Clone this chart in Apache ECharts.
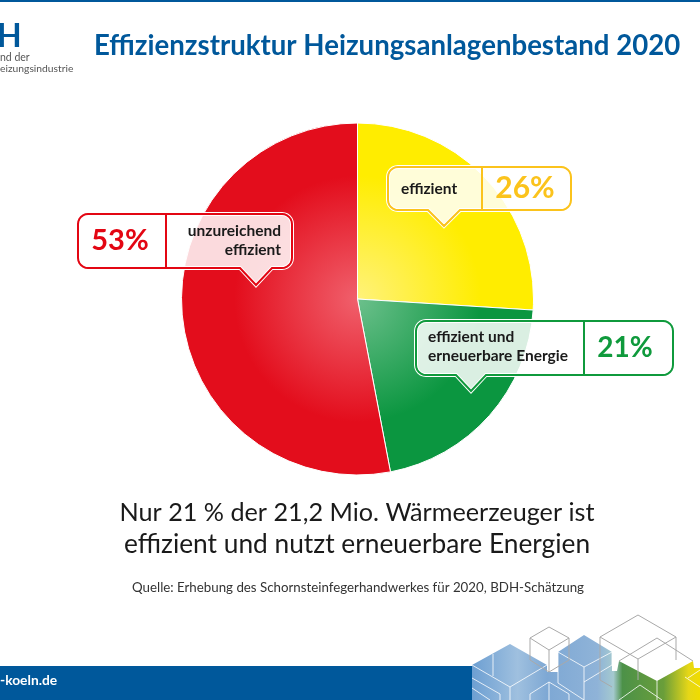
<!DOCTYPE html>
<html>
<head>
<meta charset="utf-8">
<title>Effizienzstruktur Heizungsanlagenbestand 2020</title>
<script src="https://cdn.jsdelivr.net/npm/echarts@6/dist/echarts.min.js"></script>
<style>
html,body{margin:0;padding:0;background:#fff;}
#chart{width:700px;height:700px;}
</style>
</head>
<body>
<div id="chart"></div>
<script>
var categories = ['effizient', 'effizient und erneuerbare Energie', 'unzureichend effizient'];
var values = [26, 21, 53];
var labelLines = [['effizient'], ['effizient und', 'erneuerbare Energie'], ['unzureichend', 'effizient']];
var titleText = 'Effizienzstruktur Heizungsanlagenbestand 2020';
var headline = ['Nur 21 % der 21,2 Mio. Wärmeerzeuger ist', 'effizient und nutzt erneuerbare Energien'];
var sourceText = 'Quelle: Erhebung des Schornsteinfegerhandwerkes für 2020, BDH-Schätzung';

var FONT = 'Lato, "Noto Sans", sans-serif';
var BLUE = '#00589b';
var cx = 357.5, cy = 299, radius = 176;

var chart = echarts.init(document.getElementById('chart'));

// radial shading, lighter towards the middle of the pie
function shade(inner, outer){
	return new echarts.graphic.RadialGradient(cx, cy, radius, [
		{offset: 0, color: inner},
		{offset: 0.7, color: outer},
		{offset: 1, color: outer}
	], true);
}

function text(str, x, y, size, weight, color, align){
	return {
		type: 'text', z: 20,
		style: {
			text: str, x: x, y: y, fill: color,
			font: weight + ' ' + size + 'px ' + FONT,
			textAlign: align || 'left', textVerticalAlign: 'middle'
		}
	};
}

function line(points, color, width, fill){
	return {
		type: fill ? 'polygon' : 'polyline', z: 5, silent: true,
		shape: {points: points},
		style: {stroke: color, lineWidth: width, fill: fill || null}
	};
}

// quarter circle between two angles, appended as short segments
function corner(pts, x, y, c, from){
	for(var k = 0; k <= 6; k++){
		var a = (from + k * 15) * Math.PI / 180;
		pts.push([x + c * Math.cos(a), y + c * Math.sin(a)]);
	}
}

// speech bubble: rounded box with a tail below and a divider
function bubble(l, t, r, b, divider, tailL, tailTip, tailY, tailR, color){
	var c = 10, pts = [];
	corner(pts, r - c, t + c, c, -90);
	corner(pts, r - c, b - c, c, 0);
	pts.push([tailR, b], [tailTip, tailY], [tailL, b]);
	corner(pts, l + c, b - c, c, 90);
	corner(pts, l + c, t + c, c, 180);
	return [
		{
			type: 'polygon', z: 10, silent: true,
			shape: {points: pts},
			style: {fill: 'rgba(255,255,255,0.85)', stroke: '#fff', lineWidth: 4}
		},
		{
			type: 'polygon', z: 11, silent: true,
			shape: {points: pts},
			style: {fill: null, stroke: color, lineWidth: 2}
		},
		{
			type: 'line', z: 11, silent: true,
			shape: {x1: divider, y1: t, x2: divider, y2: b},
			style: {stroke: color, lineWidth: 2}
		}
	];
}

var elements = [];

// frame: top rule and footer band
elements.push({type: 'rect', z: 1, shape: {x: 0, y: 0, width: 700, height: 2}, style: {fill: BLUE}});
elements.push({type: 'rect', z: 1, shape: {x: 0, y: 666, width: 472, height: 34}, style: {fill: BLUE}});

// footer artwork
var footerFill = new echarts.graphic.LinearGradient(472, 0, 700, 0, [
	{offset: 0, color: '#6d9fd2'},
	{offset: 0.2, color: '#9fc0df'},
	{offset: 0.33, color: '#7ea8d4'},
	{offset: 0.55, color: '#8fb3d8'},
	{offset: 0.62, color: '#a4c9cf'},
	{offset: 0.66, color: '#4c9148'},
	{offset: 0.84, color: '#6a9e3a'},
	{offset: 0.95, color: '#e6d717'},
	{offset: 1, color: '#f0dc00'}
], true);
elements.push(line([[472,665],[510,644],[547,665],[547,672],[558,672],[558,652],[584,635],[612,652],[612,671],[617,671],[619,661],[657,681],[693,661],[694,668],[700,668],[700,700],[472,700]], 'none', 0, footerFill));
var whiteLines = [
	[[472,665],[510,687],[547,665]], [[510,687],[510,700]], [[493,654],[493,676]],
	[[472,678],[500,694],[500,700]], [[472,688],[490,700]],
	[[558,652],[558,683],[584,700]], [[558,652],[584,667],[612,652]], [[584,667],[584,700]],
	[[530,694],[549,682],[569,694],[569,700]], [[530,694],[530,700]], [[549,682],[549,700]],
	[[612,652],[612,665],[584,682]], [[619,700],[640,685],[662,700]], [[657,681],[657,700]],
	[[688,678],[700,670]], [[685,677],[700,687]]
];
whiteLines.forEach(function(p){ elements.push(line(p, 'rgba(255,255,255,0.8)', 1)); });
var greyLines = [
	[[530,638],[549,627],[569,638],[549,650],[530,638]], [[530,638],[530,660],[549,672]], [[549,650],[549,672]], [[569,638],[569,660],[549,672]],
	[[600,637],[638,615],[676,637],[638,659],[600,637]], [[600,637],[600,680],[612,687]], [[638,659],[638,680]], [[676,637],[676,660]],
	[[619,661],[657,638],[693,661]]
];
greyLines.forEach(function(p){ elements.push(line(p, '#a9a9a9', 1)); });

// logo remainder top left
elements.push(text('H', -3, 37, 32, 'bold', BLUE));
elements.push(text('nd der', 0, 58, 10.5, 'normal', '#555'));
elements.push(text('eizungsindustrie', 0, 69, 10.3, 'normal', '#555'));
elements.push(text('-koeln.de', 0, 681, 13.8, 'bold', '#fff'));

// title and captions
elements.push(text(titleText, 94, 46, 27.6, 'bold', BLUE));
elements.push(text(headline[0], 357, 513, 25.2, 'normal', '#1a1a1a', 'center'));
elements.push(text(headline[1], 357, 545, 26.3, 'normal', '#1a1a1a', 'center'));
elements.push(text(sourceText, 358, 588, 13.3, 'normal', '#333', 'center'));

// callouts
var RED = '#e30613', YEL = '#fbc31c', GRN = '#0f9a3c', INK = '#1a1a1a';
elements = elements.concat(bubble(78, 214, 292, 268, 166, 240, 256, 285, 272, RED));
elements.push(text(values[2] + '%', 120, 241, 29, 'bold', RED, 'center'));
elements.push(text(labelLines[2][0], 281, 231, 15.5, 'bold', INK, 'right'));
elements.push(text(labelLines[2][1], 281, 250, 15.5, 'bold', INK, 'right'));

elements = elements.concat(bubble(388, 167, 571, 210, 482, 428, 444, 226, 460, YEL));
elements.push(text(values[0] + '%', 525, 188, 30, 'bold', YEL, 'center'));
elements.push(text(labelLines[0][0], 401, 189, 15.5, 'bold', INK));

elements = elements.concat(bubble(416, 321, 673, 375, 584, 456, 471, 391, 486, GRN));
elements.push(text(values[1] + '%', 625, 348, 28, 'bold', GRN, 'center'));
elements.push(text(labelLines[1][0], 428, 337, 15.5, 'bold', INK));
elements.push(text(labelLines[1][1], 428, 356, 15.5, 'bold', INK));

var pieData = [];
var pieColors = [shade('#fff27a', '#ffed00'), shade('#6cc08c', '#0b9640'), shade('#f0606c', '#e30d1c')];
for(var i = 0; i < categories.length; i++){
	pieData.push({name: categories[i], value: values[i], itemStyle: {color: pieColors[i]}});
}

var option = {
	backgroundColor: '#fff',
	animation: false,
	series: [{
		type: 'pie',
		center: [cx, cy],
		radius: [0, radius],
		startAngle: 90,
		clockwise: true,
		label: {show: false},
		labelLine: {show: false},
		itemStyle: {borderColor: '#fff', borderWidth: 1},
		emphasis: {disabled: true},
		data: pieData
	}],
	graphic: {elements: elements}
};
chart.setOption(option);
</script>
</body>
</html>
